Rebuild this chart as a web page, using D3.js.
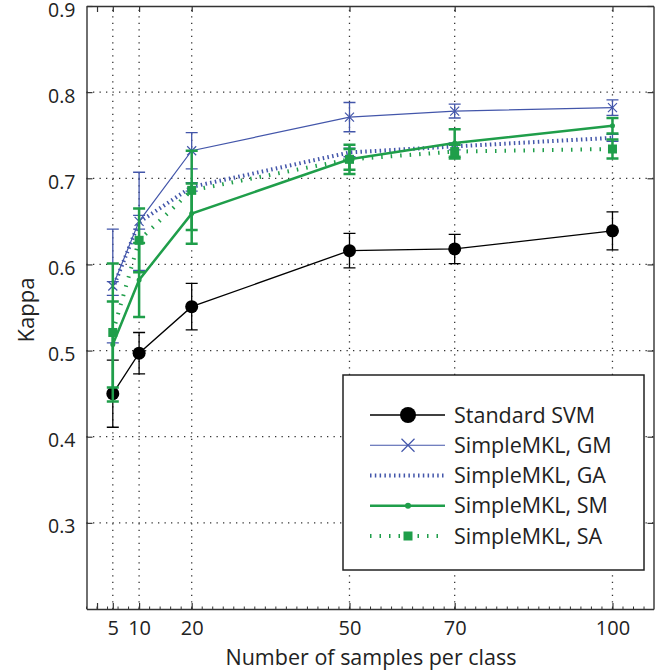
<!DOCTYPE html>
<html><head><meta charset="utf-8">
<script src="https://cdn.jsdelivr.net/npm/d3@7"></script>
<style>
html,body{margin:0;padding:0;background:#fff;}
text{font-family:"Open Sans","Noto Sans",sans-serif;fill:#222;}
</style></head>
<body>
<svg id="chart" width="668" height="671"></svg>
<script>
// ---- data ----
const samples = [5, 10, 20, 50, 70, 100];
const xTickValues = [2, 5, 10, 20, 50, 70, 100];
const xTickLabels = ["", "5", "10", "20", "50", "70", "100"];
const yTickValues = [0.3, 0.4, 0.5, 0.6, 0.7, 0.8, 0.9];
const yTickLabels = ["0.3", "0.4", "0.5", "0.6", "0.7", "0.8", "0.9"];
const seriesNames = ["Standard SVM", "SimpleMKL, GM", "SimpleMKL, GA", "SimpleMKL, SM", "SimpleMKL, SA"];
const svmVals = [0.450, 0.497, 0.551, 0.616, 0.618, 0.639];
const svmErr  = [0.039, 0.024, 0.027, 0.020, 0.017, 0.022];
const gmVals  = [0.575, 0.650, 0.732, 0.771, 0.778, 0.782];
const gmErr   = [0.066, 0.057, 0.021, 0.017, 0.008, 0.009];
const gaVals  = [0.572, 0.649, 0.690, 0.730, 0.737, 0.747];
const gaErr   = [0.008, 0.008, 0.005, 0.005, 0.004, 0.004];
const smVals  = [0.507, 0.582, 0.659, 0.722, 0.741, 0.761];
const smErr   = [0.050, 0.043, 0.035, 0.017, 0.016, 0.009];
const saVals  = [0.521, 0.628, 0.686, 0.722, 0.731, 0.734];
const saErr   = [0.080, 0.037, 0.046, 0.012, 0.008, 0.011];
const xLabel = "Number of samples per class";
const yLabel = "Kappa";

// ---- layout ----
const L = 86.5, R = 653.5, T = 6, B = 609;
const BLUE = "#4356aa", GREEN = "#1f9e4a";
const svg = d3.select("#chart");
const x = d3.scaleLinear().domain([0, 107.8]).range([L, R]);
const y = d3.scaleLinear().domain([0.2, 0.9]).range([B, T]);

const styles = [
  {vals: svmVals, err: svmErr, color: "#000", width: 1.3, dash: null, marker: "circle", r: 6.5, lr: 8, ew: 1.3},
  {vals: gmVals, err: gmErr, color: BLUE, width: 1.2, dash: null, marker: "x", r: 4.5, lr: 6.5, ew: 1.3},
  {vals: gaVals, err: gaErr, color: BLUE, width: 4, dash: "1.5,3.3", marker: "none", r: 0, lr: 0, ew: 1.3},
  {vals: smVals, err: smErr, color: GREEN, width: 2.5, dash: null, marker: "dot", r: 2.5, lr: 3, ew: 2.5},
  {vals: saVals, err: saErr, color: GREEN, width: 4, dash: "1.5,8", marker: "square", r: 4.5, lr: 4.5, ew: 2.5}
];

// ---- grid ----
const grid = svg.append("g");
grid.selectAll("line.gx").data(samples).enter().append("line")
  .attr("x1", d => x(d)).attr("x2", d => x(d)).attr("y1", B).attr("y2", T)
  .attr("stroke", "#333").attr("stroke-width", 1.3).attr("stroke-dasharray", "1.3,5.2");
grid.selectAll("line.gy").data(yTickValues.filter(v => v < 0.9)).enter().append("line")
  .attr("y1", d => y(d)).attr("y2", d => y(d)).attr("x1", L).attr("x2", R)
  .attr("stroke", "#333").attr("stroke-width", 1.3).attr("stroke-dasharray", "1.3,5.2");

// ---- axes (box) ----
const fmtX = (d) => xTickLabels[xTickValues.indexOf(d)];
const fmtY = (d) => yTickLabels[yTickValues.indexOf(d)];
const xAxisB = d3.axisBottom(x).tickValues(xTickValues).tickFormat(fmtX).tickSizeInner(-6).tickSizeOuter(0).tickPadding(12);
const xAxisT = d3.axisTop(x).tickValues(xTickValues).tickFormat("").tickSizeInner(-6).tickSizeOuter(0);
const yAxisL = d3.axisLeft(y).tickValues(yTickValues).tickFormat(fmtY).tickSizeInner(-6).tickSizeOuter(0).tickPadding(11);
const yAxisR = d3.axisRight(y).tickValues(yTickValues).tickFormat("").tickSizeInner(-6).tickSizeOuter(0);

const minor = d3.range(0, 107, 2);
svg.append("g").selectAll("line").data(minor).enter().append("line")
  .attr("x1", d => x(d)).attr("x2", d => x(d)).attr("y1", B).attr("y2", B - 2.5)
  .attr("stroke", "#333").attr("stroke-width", 1);

function styleAxis(g) {
  g.select(".domain").attr("stroke", "#333").attr("stroke-width", 1.4);
  g.selectAll(".tick line").attr("stroke", "#333").attr("stroke-width", 1.2);
  g.selectAll(".tick text").attr("font-size", 20).attr("fill", "#222")
    .attr("font-family", "'Open Sans','Noto Sans',sans-serif");
}
svg.append("g").attr("transform", `translate(0,${B})`).call(xAxisB).call(styleAxis);
svg.append("g").attr("transform", `translate(0,${T})`).call(xAxisT).call(styleAxis);
const gy = svg.append("g").attr("transform", `translate(${L},0)`).call(yAxisL).call(styleAxis);
gy.selectAll(".tick text").attr("font-size", 19.5).attr("dy", "0.52em");
svg.append("g").attr("transform", `translate(${R},0)`).call(yAxisR).call(styleAxis);

// ---- series ----
function drawMarker(g, type, cx, cy, r, color) {
  if (type === "circle") g.append("circle").attr("cx", cx).attr("cy", cy).attr("r", r).attr("fill", "#000");
  else if (type === "x") {
    g.append("path").attr("d", `M${cx - r},${cy - r}L${cx + r},${cy + r}M${cx - r},${cy + r}L${cx + r},${cy - r}`)
      .attr("stroke", color).attr("stroke-width", 1.2).attr("fill", "none");
  } else if (type === "dot") g.append("circle").attr("cx", cx).attr("cy", cy).attr("r", r).attr("fill", color);
  else if (type === "square") g.append("rect").attr("x", cx - r).attr("y", cy - r).attr("width", 2 * r).attr("height", 2 * r).attr("fill", color);
}

const line = d3.line().x((d, i) => x(samples[i])).y(d => y(d));
const cap = 6;
styles.forEach(s => {
  const g = svg.append("g");
  s.vals.forEach((v, i) => {
    const cx = x(samples[i]), lo = y(v - s.err[i]), hi = y(v + s.err[i]);
    g.append("path").attr("d", `M${cx},${lo}L${cx},${hi}M${cx - cap},${lo}L${cx + cap},${lo}M${cx - cap},${hi}L${cx + cap},${hi}`)
      .attr("stroke", s.color).attr("stroke-width", s.ew).attr("fill", "none");
  });
  g.append("path").datum(s.vals).attr("d", line).attr("fill", "none")
    .attr("stroke", s.color).attr("stroke-width", s.width)
    .attr("stroke-dasharray", s.dash);
  s.vals.forEach((v, i) => drawMarker(g, s.marker, x(samples[i]), y(v), s.r, s.color));
});

// ---- legend ----
const lg = svg.append("g");
lg.append("rect").attr("x", 343).attr("y", 375).attr("width", 301).attr("height", 195)
  .attr("fill", "#fff").attr("stroke", "#222").attr("stroke-width", 1.5);
const rowY = d3.scalePoint().domain(seriesNames).range([415, 536]);
styles.forEach((s, i) => {
  const yy = rowY(seriesNames[i]);
  lg.append("line").attr("x1", 370).attr("x2", 445).attr("y1", yy).attr("y2", yy)
    .attr("stroke", s.color).attr("stroke-width", s.width).attr("stroke-dasharray", s.dash);
  drawMarker(lg, s.marker, 408, yy, s.lr, s.color);
  lg.append("text").attr("x", 454).attr("y", yy).attr("dy", "0.35em")
    .attr("font-size", 21.5).text(seriesNames[i]);
});

// ---- labels ----
svg.append("text").attr("x", 371).attr("y", 665).attr("text-anchor", "middle")
  .attr("font-size", 21.5).text(xLabel);
svg.append("text").attr("transform", "translate(34,310) rotate(-90)").attr("text-anchor", "middle")
  .attr("font-size", 22).text(yLabel);
</script>
</body></html>
